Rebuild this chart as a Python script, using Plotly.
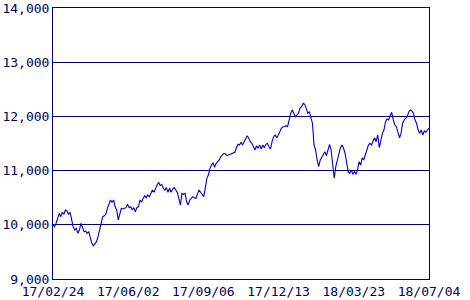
import numpy as np
import plotly.graph_objects as go

# Index value series (roughly one reading per 1.55 px)
values = [
    9996, 9965, 10028, 10120, 10212, 10150, 10231, 10194, 10273, 10255,
    10194, 10231, 10089, 9965, 9904, 9935, 9843, 9904, 10028, 9935,
    9873, 9886, 9843, 9873, 9781, 9659, 9614, 9659, 9688, 9781,
    9904, 10058, 10150, 10168, 10194, 10304, 10365, 10458, 10415, 10458,
    10334, 10273, 10089, 10212, 10304, 10292, 10304, 10316, 10378, 10316,
    10334, 10273, 10316, 10242, 10316, 10334, 10458, 10415, 10489, 10537,
    10500, 10550, 10519, 10581, 10642, 10600, 10685, 10734, 10784, 10722,
    10747, 10673, 10642, 10685, 10600, 10673, 10600, 10661, 10685, 10642,
    10600, 10489, 10365, 10581, 10563, 10581, 10426, 10365, 10458, 10489,
    10519, 10500, 10489, 10570, 10642, 10600, 10550, 10519, 10673, 10858,
    10919, 11042, 11103, 11146, 11061, 11135, 11164, 11196, 11257, 11288,
    11319, 11305, 11275, 11290, 11301, 11310, 11319, 11338, 11412, 11485,
    11472, 11522, 11472, 11533, 11596, 11644, 11596, 11533, 11504, 11441,
    11380, 11459, 11412, 11472, 11399, 11472, 11422, 11485, 11504, 11441,
    11399, 11533, 11626, 11657, 11607, 11657, 11731, 11780, 11810, 11810,
    11828, 11810, 11934, 12057, 12118, 12039, 11994, 12026, 12057, 12155,
    12179, 12242, 12223, 12149, 12057, 12087, 11994, 11873, 11472, 11380,
    11196, 11072, 11196, 11257, 11301, 11349, 11275, 11399, 11485, 11380,
    11103, 10858, 11072, 11196, 11349, 11423, 11472, 11412, 11319, 11164,
    10980, 10950, 11011, 10932, 10980, 10932, 11011, 11164, 11103, 11238,
    11196, 11288, 11380, 11472, 11504, 11472, 11546, 11607, 11533, 11657,
    11423, 11565, 11688, 11749, 11902, 11952, 11934, 12013, 12076, 11934,
    11841, 11810, 11718, 11607, 11688, 11873, 11934, 11976, 11994, 12087,
    12118, 12100, 12057, 11934, 11873, 11749, 11688, 11749, 11657, 11731,
    11707, 11749, 11786,
]

tick_labels = ["17/02/24", "17/06/02", "17/09/06", "17/12/13", "18/03/23", "18/07/04"]
y_ticks = [9000, 10000, 11000, 12000, 13000, 14000]

n = len(values)
x_index = list(range(n))
tick_positions = list(np.linspace(0, n - 1, len(tick_labels)))

navy = "#000066"
font = dict(family="DejaVu Sans Mono", size=13, color=navy)

fig = go.Figure(
    go.Scatter(
        x=x_index,
        y=values,
        mode="lines",
        line=dict(color="#0000cc", width=1.1),
        hoverinfo="skip",
    )
)

fig.update_layout(
    width=470,
    height=300,
    margin=dict(l=53, r=41, t=8, b=21, pad=0),
    paper_bgcolor="white",
    plot_bgcolor="white",
    showlegend=False,
    font=font,
)

fig.update_xaxes(
    range=[0, n - 1],
    tickvals=tick_positions,
    ticktext=tick_labels,
    showgrid=False,
    zeroline=False,
    showline=True,
    linecolor=navy,
    linewidth=1,
    mirror=True,
    ticks="",
    tickfont=font,
    automargin=False,
)

fig.update_yaxes(
    range=[9000, 14000],
    tickvals=y_ticks,
    tickformat=",d",
    showgrid=True,
    gridcolor=navy,
    gridwidth=1,
    zeroline=False,
    showline=True,
    linecolor=navy,
    linewidth=1,
    mirror=True,
    ticks="",
    tickfont=font,
    automargin=False,
)

fig.write_html("out.html")
